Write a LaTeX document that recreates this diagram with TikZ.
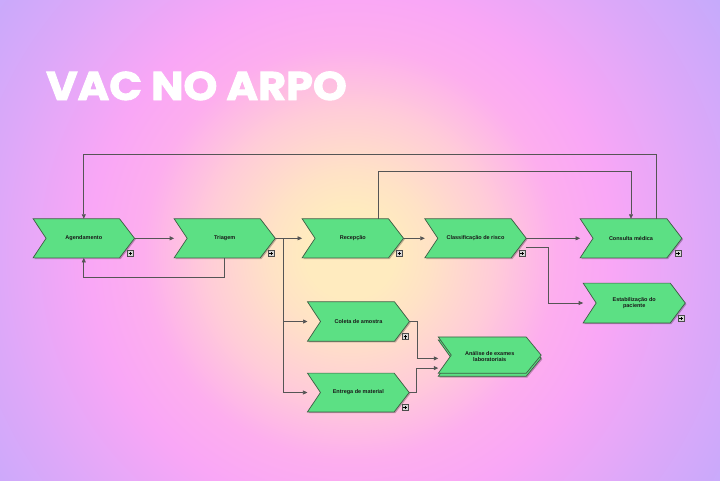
\documentclass[tikz,border=0pt]{standalone}
\usepackage{fontspec}
\setmainfont{Liberation Sans}
\newfontfamily\titlefont{Poppins}[FakeBold=2.2]
\usetikzlibrary{arrows.meta,calc}
\definecolor{bgA}{HTML}{FFEBBF}
\definecolor{bgB}{HTML}{FFE2C6}
\definecolor{bgC}{HTML}{FFCCD8}
\definecolor{bgD}{HTML}{FDAEEE}
\definecolor{bgE}{HTML}{F9A7F6}
\definecolor{bgF}{HTML}{DCA8F9}
\definecolor{bgG}{HTML}{C5AAFB}
\definecolor{chevfill}{HTML}{5CE084}
\definecolor{chevline}{HTML}{3E5E44}
\definecolor{linec}{HTML}{555555}
\definecolor{plusfill}{HTML}{D8D8D8}
\pgfdeclareradialshading{bgshade}{\pgfpoint{0bp}{0bp}}{color(0bp)=(bgA); color(2.5bp)=(bgA); color(4.5bp)=(bgB); color(8bp)=(bgC); color(11.5bp)=(bgD); color(14.5bp)=(bgE); color(20bp)=(bgF); color(25bp)=(bgG); color(50bp)=(bgG)}
\pgfdeclarelayer{background}
\pgfdeclarelayer{shapes}
\pgfsetlayers{background,shapes,main}
\tikzset{
  box/.style={minimum height=38.7pt, inner sep=0pt, align=center, text=black!90,
    font=\bfseries\fontsize{5.5}{6.3}\selectfont},
  chev/.style={fill=chevfill, draw=chevline, line width=0.7pt, line join=miter},
  chevshadow/.style={fill=black, opacity=0.25},
  conn/.style={draw=linec, line width=0.7pt},
  arr/.style={conn, -{Triangle[length=4.5pt,width=4pt]}},
  pluss/.style={fill=plusfill, draw=black!70, line width=0.45pt},
  titlest/.style={text=white, inner sep=0pt, font=\titlefont\bfseries\fontsize{40}{40}\selectfont}
}
\newcommand\drawchev[1]{%
  \begin{pgfonlayer}{shapes}
  \fill[chevshadow] ([shift={(1.2pt,-1.2pt)}]#1.north west) -- ([shift={(-13.8pt,-1.2pt)}]#1.north east) -- ([shift={(1.2pt,-1.2pt)}]#1.east) -- ([shift={(-13.8pt,-1.2pt)}]#1.south east) -- ([shift={(1.2pt,-1.2pt)}]#1.south west) -- ([shift={(14.2pt,-1.2pt)}]#1.west) -- cycle;
  \draw[chev] (#1.north west) -- ([xshift=-15pt]#1.north east) -- (#1.east) -- ([xshift=-15pt]#1.south east) -- (#1.south west) -- ([xshift=13pt]#1.west) -- cycle;
  \end{pgfonlayer}}
\newcommand\plusbox[1]{%
  \draw[pluss] ([shift={(-7pt,1.5pt)}]#1.south east) rectangle ([shift={(-1pt,7.5pt)}]#1.south east);
  \draw[black, line width=0.55pt] ([shift={(-5.8pt,4.5pt)}]#1.south east) -- ([shift={(-2.2pt,4.5pt)}]#1.south east);
  \draw[black, line width=0.55pt] ([shift={(-4pt,2.7pt)}]#1.south east) -- ([shift={(-4pt,6.3pt)}]#1.south east);}
\begin{document}
\begin{tikzpicture}[x=1pt,y=-1pt]
\useasboundingbox (0,0) rectangle (720,480);
\begin{pgfonlayer}{background}
  \clip (0,0) rectangle (720,480);
  \shade[shading=bgshade] (350,253) circle[radius=450pt];
\end{pgfonlayer}

\node[titlest, anchor=base west, xscale=1.075] (ttl) at (46,100) {VAC NO ARPO};

\node[box, minimum width=101pt] (agd) at (83.8,238.3) {Agendamento};
\node[box, minimum width=100.7pt] (tri) at (224.7,238.3) {Triagem};
\node[box, minimum width=101pt] (rec) at (352.8,238.3) {Recepção};
\node[box, minimum width=101pt] (cla) at (475.5,238.3) {Classificação de risco};
\node[box, minimum width=101.4pt] (con) at (631,238.3) {Consulta médica};
\node[box, minimum width=101.7pt, minimum height=39.4pt] (est) at (634.2,303) {Estabilização do\\paciente};
\node[box, minimum width=101.6pt, minimum height=39pt] (col) at (358.5,321.5) {Coleta de amostra};
\node[box, minimum width=101.3pt, minimum height=38.4pt] (ent) at (358.3,392.5) {Entrega de material};
\node[box, minimum width=102.5pt, minimum height=39pt] (ana) at (489.7,356.6) {Análise de exames\\laboratoriais};

\foreach \n in {agd,tri,rec,cla,con,est,col,ent}{\drawchev{\n}}
\begin{pgfonlayer}{shapes}
  % back layer of the stacked function
  \fill[chevshadow] ([shift={(1.2pt,-4.2pt)}]ana.north west) -- ([shift={(-13.8pt,-4.2pt)}]ana.north east) -- ([shift={(1.2pt,-2.7pt)}]ana.east) -- ([shift={(-13.8pt,-1.2pt)}]ana.south east) -- ([shift={(1.2pt,-1.2pt)}]ana.south west) -- ([shift={(14.2pt,-2.7pt)}]ana.west) -- cycle;
  \draw[chev] ([yshift=-3pt]ana.north west) -- ([shift={(-15pt,-3pt)}]ana.north east) -- ([yshift=-1.5pt]ana.east) -- ([xshift=-15pt]ana.south east) -- (ana.south west) -- ([shift={(13pt,-1.5pt)}]ana.west) -- cycle;
  \draw[chev] (ana.north west) -- ([xshift=-15pt]ana.north east) -- ([yshift=1.5pt]ana.east) -- ([shift={(-15pt,3pt)}]ana.south east) -- ([yshift=3pt]ana.south west) -- ([shift={(13pt,1.5pt)}]ana.west) -- cycle;
\end{pgfonlayer}

\foreach \n in {agd,tri,rec,cla,con,est,col,ent}{\plusbox{\n}}

\coordinate (br) at ($(tri.east)+(8.3pt,0pt)$);
\draw[arr] (agd.east) -- (tri.west);
\draw[conn] (tri.east) -- (br);
\draw[arr] (br) -- (rec.west);
\draw[arr] (br) |- (col.west);
\draw[arr] (br) |- (ent.west);
\draw[arr] (rec.east) -- (cla.west);
\draw[arr] (cla.east) -- (con.west);
\draw[arr] ([yshift=-9.5pt]cla.east) -- ++(22.6pt,0pt) |- (est.west);
\draw[arr] ([xshift=25pt]con.north) -- ++(0pt,64pt) -| (agd.north);
\draw[arr] ([xshift=25.2pt]rec.north) -- ++(0pt,47pt) -| (con.north);
\draw[arr] ([xshift=-0.7pt]tri.south) -- ++(0pt,-19pt) -| (agd.south);
\draw[arr] (col.east) -- ++(7.4pt,0pt) |- ([yshift=-1.8pt]ana.west);
\draw[arr] (ent.east) -- ++(7pt,0pt) |- ([yshift=-11.5pt]ana.west);
\end{tikzpicture}
\end{document}
